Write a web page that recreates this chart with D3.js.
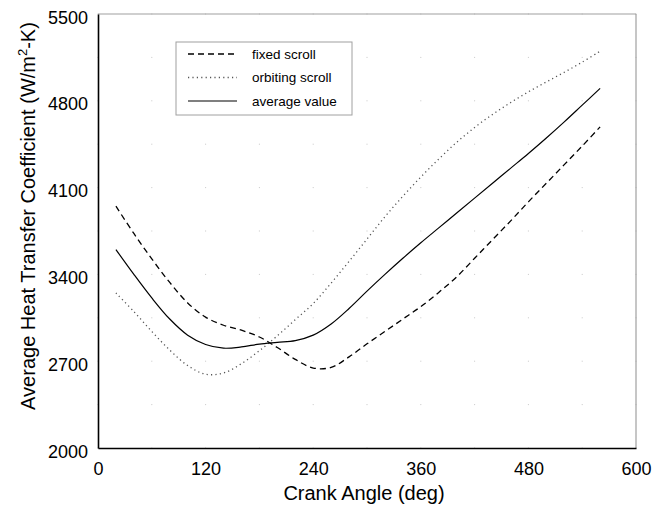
<!DOCTYPE html>
<html><head><meta charset="utf-8">
<script src="https://cdn.jsdelivr.net/npm/d3@7"></script>
<style>body{margin:0;background:#fff}svg{display:block}text{font-family:"Liberation Sans",Arial,sans-serif}</style>
</head><body><svg id="c" width="667" height="506"></svg>
<script>
const angles = [20,40,60,80,100,120,140,160,180,200,220,240,260,280,300,320,340,360,380,400,420,440,460,480,500,520,540,560];
const fixedScroll = [3950,3730,3525,3335,3170,3055,2990,2950,2895,2810,2715,2645,2650,2735,2840,2940,3040,3140,3255,3380,3530,3680,3830,3985,4135,4285,4435,4590];
const orbitingScroll = [3250,3100,2940,2790,2665,2595,2605,2680,2785,2905,3035,3165,3330,3505,3685,3865,4030,4185,4330,4465,4585,4690,4785,4872,4952,5030,5112,5200];
const averageValue = [3600,3400,3210,3040,2910,2835,2805,2815,2838,2852,2866,2910,3000,3125,3265,3400,3530,3655,3775,3895,4015,4135,4255,4375,4500,4630,4765,4900];
const xTicks = [0,120,240,360,480,600];
const yTicks = [2000,2700,3400,4100,4800,5500];
const seriesNames = ["fixed scroll","orbiting scroll","average value"];

const svg = d3.select("#c");
const L=98,R=636,T=14,B=448;
const x = d3.scaleLinear().domain([0,600]).range([L,R]);
const y = d3.scaleLinear().domain([2000,5500]).range([B,T]);

// grid dots
const gx = d3.range(0,601,60), gy = d3.range(2000,5501,350);
const g = svg.append("g");
gx.forEach(a=>gy.forEach(b=>{
  g.append("rect").attr("x",x(a)-0.5).attr("y",y(b)-0.5).attr("width",1).attr("height",1).attr("fill","#c8c8c8");
}));

// frame
svg.append("line").attr("x1",L).attr("x2",R).attr("y1",T).attr("y2",T).attr("stroke","#a0a0a0").attr("stroke-width",1.2);
svg.append("line").attr("x1",R).attr("x2",R).attr("y1",T).attr("y2",B).attr("stroke","#a0a0a0").attr("stroke-width",1.2);

const xa = svg.append("g").attr("transform",`translate(0,${B})`).call(d3.axisBottom(x).tickValues(xTicks).tickSize(0).tickPadding(14).tickFormat(d3.format("d")));
const ya = svg.append("g").attr("transform",`translate(${L},0)`).call(d3.axisLeft(y).tickValues(yTicks).tickSize(0).tickPadding(10).tickFormat(d3.format("d")));
[xa,ya].forEach(a=>{a.select(".domain").attr("stroke","#000").attr("stroke-width",1.6);a.selectAll("text").attr("font-size",18).attr("fill","#000").style("font-family","Liberation Sans, Arial, sans-serif");});
ya.selectAll("text").attr("dy","0.5em");

const line = d3.line().x((d,i)=>x(angles[i])).y(d=>y(d)).curve(d3.curveCatmullRom.alpha(0.5));
const styles = [
  {data:fixedScroll, stroke:"#000", dash:"6,4", w:1.3},
  {data:orbitingScroll, stroke:"#555", dash:"1.2,3.2", w:1.3},
  {data:averageValue, stroke:"#000", dash:null, w:1.2}
];
styles.forEach(s=>{
  svg.append("path").attr("d",line(s.data)).attr("fill","none").attr("stroke",s.stroke).attr("stroke-width",s.w).attr("stroke-dasharray",s.dash);
});

// legend
const lg = svg.append("g");
lg.append("rect").attr("x",176).attr("y",42).attr("width",176).attr("height",73).attr("fill","#fff").attr("stroke","#a0a0a0").attr("stroke-width",1);
styles.forEach((s,i)=>{
  const yy = 54 + i*23.5;
  lg.append("line").attr("x1",188).attr("x2",237).attr("y1",yy).attr("y2",yy).attr("stroke",s.stroke).attr("stroke-width",s.w).attr("stroke-dasharray",s.dash);
  lg.append("text").attr("x",252).attr("y",yy+4.5).attr("font-size",13.5).text(seriesNames[i]);
});

// titles
svg.append("text").attr("x",(L+R)/2-3).attr("y",500).attr("text-anchor","middle").attr("font-size",20).text("Crank Angle (deg)");
const yt = svg.append("text").attr("transform","translate(35,216) rotate(-90)").attr("text-anchor","middle").attr("font-size",20);
yt.append("tspan").text("Average Heat Transfer Coefficient (W/m");
yt.append("tspan").attr("font-size",13).attr("dy",-8).text("2");
yt.append("tspan").attr("dy",8).text("-K)");
</script></body></html>
